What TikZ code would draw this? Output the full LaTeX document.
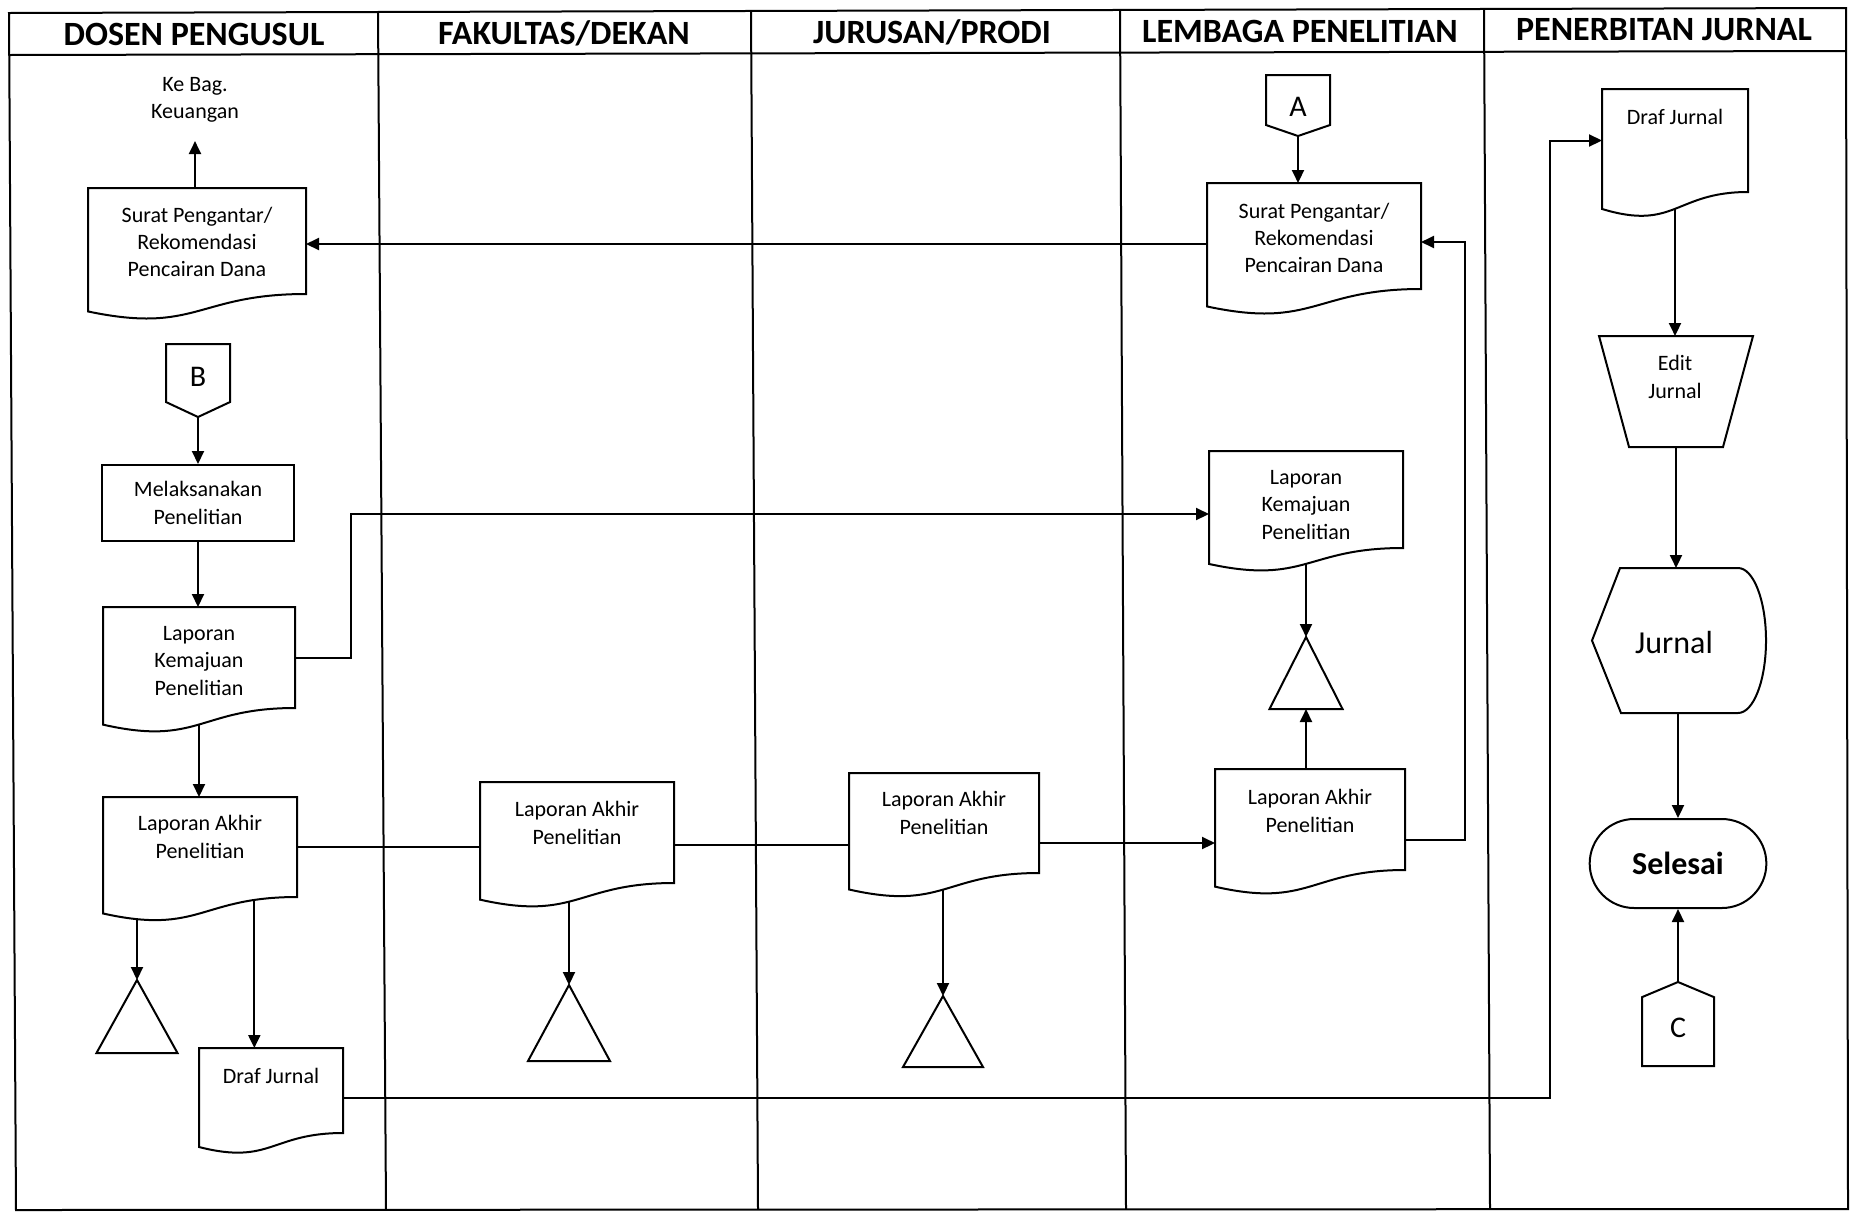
\documentclass[tikz,border=0pt]{standalone}
\usepackage{fontspec}
\setmainfont{Carlito}
\usetikzlibrary{arrows.meta,calc,shapes.misc}
\pgfdeclarelayer{bg}
\pgfdeclarelayer{mid}
\pgfsetlayers{bg,mid,main}
\tikzset{
  ln/.style={line width=1pt, line join=miter},
  arr/.style={ln, -{Triangle[length=6.5pt,width=6pt]}},
  body/.style={rectangle, draw=none, inner sep=0pt, outer sep=0pt},
  txt/.style={align=center, font=\fontsize{11}{13.7}\selectfont, inner sep=0pt},
  lanetitle/.style={font=\fontsize{17}{20}\selectfont\bfseries, inner sep=0pt},
  bigtxt/.style={font=\fontsize{16}{19}\selectfont, inner sep=0pt},
  conlabel/.style={font=\fontsize{15}{18}\selectfont, inner sep=0pt},
}
\newcommand{\docshape}[1]{%
  \begin{pgfonlayer}{mid}
  \draw[ln,fill=white] (#1.north west) -- (#1.north east) -- (#1.south east)
    .. controls (#1.south) and ($(#1.south)!-0.381!(#1.north)$) ..
    ($(#1.south west)!-0.1646!(#1.north west)$) -- cycle;
  \end{pgfonlayer}}
% name, cx, top, right-bottom y, width, text y, text
\newcommand{\flowdoc}[7]{%
  \node[body, minimum width={#5*0.5pt}, minimum height={(#4-#3)*0.5pt}] (#1) at (#2,{(#3+#4)/2}) {};
  \node[txt] (#1-t) at (#2,#6) {#7};
  \docshape{#1}}
% name, apex x, apex y, half width, height
\newcommand{\mergetri}[5]{%
  \coordinate (#1) at (#2,#3);
  \coordinate (#1-b) at (#2,#3+#5);
  \draw[ln] (#1) -- ++(#4,#5) -- ++(-2*#4,0) -- cycle;}
\begin{document}
\begin{tikzpicture}[x=0.5pt,y=-0.5pt]
\useasboundingbox (0,0) rectangle (1850,1211);

% lanes
\begin{pgfonlayer}{bg}
\draw[ln] (9,13) -- (1846,8) -- (1848,1209) -- (16,1210) -- cycle;
\draw[ln] (9,55) -- (1846,51);
\draw[ln] (378,12) -- (386,1210);
\draw[ln] (751,11) -- (758,1209);
\draw[ln] (1120,10) -- (1126,1209);
\draw[ln] (1484,9) -- (1490,1209);
\end{pgfonlayer}
\node[lanetitle] (h1) at (194,34) {DOSEN PENGUSUL};
\node[lanetitle] (h2) at (564,33) {FAKULTAS/DEKAN};
\node[lanetitle] (h3) at (932,32) {JURUSAN/PRODI};
\node[lanetitle] (h4) at (1300,31) {LEMBAGA PENELITIAN};
\node[lanetitle] (h5) at (1664,30) {PENERBITAN JURNAL};

% Dosen Pengusul
\node[txt] (kebag) at (195,100) {Ke Bag.\\Keuangan};
\flowdoc{suratL}{197}{188}{294}{218}{242}{Surat Pengantar/\\Rekomendasi\\Pencairan Dana}
\node[body, minimum width=32pt, minimum height=36.5pt] (conB) at (198,380.5) {};
\node[conlabel] (conB-t) at (198,377) {B};
\draw[ln] (conB.north west) -- (conB.north east) -- ($(conB.north east)!0.795!(conB.south east)$)
  -- (conB.south) -- ($(conB.north west)!0.795!(conB.south west)$) -- cycle;
\node[txt, draw, ln, minimum width=96pt, minimum height=38pt] (mel) at (198,503) {Melaksanakan\\Penelitian};
\flowdoc{lk1}{199}{607}{708}{192}{661}{Laporan\\Kemajuan\\Penelitian}
\flowdoc{la1}{200}{797}{897}{194}{837}{Laporan Akhir\\Penelitian}
\flowdoc{dj1}{271}{1048}{1133}{144}{1076}{Draf Jurnal}
\mergetri{t1}{137}{980}{40.5}{73}

% Fakultas
\flowdoc{fak}{577}{782}{883}{194}{823}{Laporan Akhir\\Penelitian}
\mergetri{t2}{569}{985}{41}{76}

% Jurusan
\flowdoc{jur}{944}{773}{873}{190}{813}{Laporan Akhir\\Penelitian}
\mergetri{t3}{943}{996}{40}{71}

% Lembaga Penelitian
\node[body, minimum width=32pt, minimum height=30.5pt] (conA) at (1298,105.5) {};
\node[conlabel] (conA-t) at (1298,107) {A};
\draw[ln] (conA.north west) -- (conA.north east) -- ($(conA.north east)!0.82!(conA.south east)$)
  -- (conA.south) -- ($(conA.north west)!0.82!(conA.south west)$) -- cycle;
\flowdoc{suratR}{1314}{183}{289}{214}{238}{Surat Pengantar/\\Rekomendasi\\Pencairan Dana}
\flowdoc{lklp}{1306}{451}{548}{194}{505}{Laporan\\Kemajuan\\Penelitian}
\mergetri{t4}{1306}{637}{36.5}{72}
\flowdoc{lalp}{1310}{769}{870}{190}{811}{Laporan Akhir\\Penelitian}

% Penerbitan Jurnal
\flowdoc{djpj}{1675}{89}{192}{146}{117}{Draf Jurnal}
\node[body, minimum width=77pt, minimum height=55.5pt] (edit) at (1676,391.5) {};
\node[txt] (edit-t) at (1675,377) {Edit\\Jurnal};
\draw[ln] (edit.north west) -- (edit.north east) -- ([xshift=-15pt]edit.south east)
  -- ([xshift=15pt]edit.south west) -- cycle;
\node[body, minimum width=87pt, minimum height=72.5pt] (jurnal) at (1679,640.5) {};
\node[bigtxt] (jurnal-t) at (1674,642) {Jurnal};
\draw[ln] (1620,568) -- (1738,568) .. controls (1753.5,568) and (1766,600.5) .. (1766,640.5)
  .. controls (1766,680.5) and (1753.5,713) .. (1738,713) -- (1621,713) -- (1592,640.5) -- cycle;
\node[rounded rectangle, draw, ln, minimum width=95pt, minimum height=44.5pt,
  font=\fontsize{16}{19}\selectfont\bfseries] (selesai) at (1678,863.5) {Selesai};
\node[body, minimum width=36pt, minimum height=42pt] (conC) at (1678,1024) {};
\node[conlabel] (conC-t) at (1678,1028) {C};
\draw[ln] (conC.north) -- ($(conC.north east)!0.18!(conC.south east)$) -- (conC.south east)
  -- (conC.south west) -- ($(conC.north west)!0.18!(conC.south west)$) -- cycle;

% connectors
\begin{pgfonlayer}{bg}
\draw[arr] (suratL.north -| kebag.south) -- ([yshift=-9pt]kebag.south);
\draw[arr] (suratR.west |- 0,244) -- (suratL.east |- 0,244);
\draw[arr] (conA.south) -- (conA.south |- suratR.north);
\draw[arr] (conB.south) -- (conB.south |- mel.north);
\draw[arr] (mel.south) -- (mel.south |- lk1.north);
\draw[arr] (lk1.east) -- ++(56,0) |- (lklp.west |- 0,514);
\draw[arr] (lk1.south) -- (lk1.south |- la1.north);
\draw[ln] (la1.east) -- (la1.east -| fak.west);
\draw[ln] (fak.east |- 0,845) -- (jur.west |- 0,845);
\draw[arr] (jur.east |- 0,843) -- (lalp.west |- 0,843);
\draw[arr] (t1 |- la1.south) -- (t1);
\draw[arr] ($(la1.south west)!0.78!(la1.south east)$) coordinate (la1o) -- (la1o |- dj1.north);
\draw[arr] (dj1.east |- 0,1098) -- (1550,1098) |- (djpj.west);
\draw[arr] (t2 |- fak.south) -- (t2);
\draw[arr] (t3 |- jur.south) -- (t3);
\draw[arr] (t4 |- lklp.south) -- (t4);
\draw[arr] (lalp.north -| t4-b) -- (t4-b);
\draw[arr] (lalp.east |- 0,840) -- (1465,840) |- (suratR.east |- 0,242);
\draw[arr] (djpj.south) -- (djpj.south |- edit.north);
\draw[arr] (edit.south) -- (edit.south |- jurnal.north);
\draw[arr] (jurnal.south -| selesai.north) -- (selesai.north);
\draw[arr] (conC.north) -- (conC.north |- selesai.south);
\end{pgfonlayer}
\end{tikzpicture}
\end{document}
